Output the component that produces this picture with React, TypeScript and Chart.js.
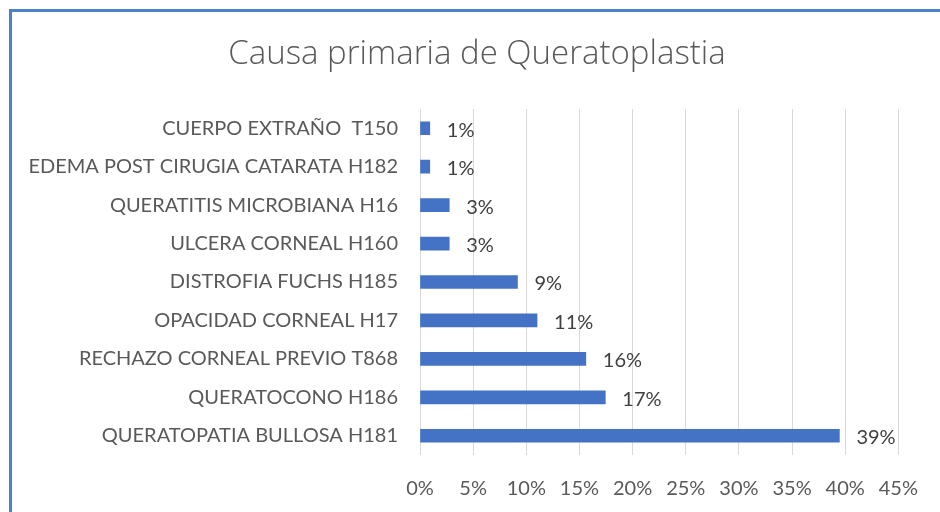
import React, { useEffect, useRef } from "react";
import { Chart, registerables } from "chart.js";

Chart.register(...registerables);

const categories = [
  "CUERPO EXTRAÑO  T150",
  "EDEMA POST CIRUGIA CATARATA H182",
  "QUERATITIS MICROBIANA H16",
  "ULCERA CORNEAL H160",
  "DISTROFIA FUCHS H185",
  "OPACIDAD CORNEAL H17",
  "RECHAZO CORNEAL PREVIO T868",
  "QUERATOCONO H186",
  "QUERATOPATIA BULLOSA H181",
];
const percentValues = [0.92, 0.92, 2.75, 2.75, 9.17, 11.01, 15.6, 17.43, 39.45];
const xTicks = [0, 5, 10, 15, 20, 25, 30, 35, 40, 45];
const titleText = "Causa primaria de Queratoplastia";

const FONT = "Lato, 'Open Sans', sans-serif";
const TITLE_FONT = "'Open Sans', Lato, sans-serif";

const dataLabelPlugin = {
  id: "dataLabels",
  afterDatasetsDraw(chart: any) {
    const ctx = chart.ctx;
    const meta = chart.getDatasetMeta(0);
    const data = chart.data.datasets[0].data as number[];
    ctx.save();
    ctx.font = `20px ${FONT}`;
    ctx.fillStyle = "#404040";
    ctx.textAlign = "left";
    ctx.textBaseline = "middle";
    meta.data.forEach((bar: any, i: number) => {
      ctx.fillText(Math.round(data[i]) + "%", bar.x + 17, bar.y + 2);
    });
    ctx.restore();
  },
};

const titlePlugin = {
  id: "customTitle",
  afterDraw(chart: any) {
    const ctx = chart.ctx;
    ctx.save();
    ctx.font = `300 33px ${TITLE_FONT}`;
    ctx.fillStyle = "#595959";
    ctx.textAlign = "center";
    ctx.textBaseline = "middle";
    ctx.fillText(titleText, 477, 55);
    ctx.restore();
  },
};

export default function App() {
  const ref = useRef<HTMLCanvasElement | null>(null);
  useEffect(() => {
    if (!ref.current) return;
    const chart = new Chart(ref.current, {
      type: "bar",
      data: {
        labels: categories,
        datasets: [
          {
            data: percentValues,
            backgroundColor: "#4472C4",
            borderWidth: 0,
            barThickness: 13,
          },
        ],
      },
      plugins: [dataLabelPlugin, titlePlugin],
      options: {
        indexAxis: "y",
        animation: false,
        responsive: false,
        layout: { padding: { left: 0, right: 37, top: 109, bottom: 0 } },
        plugins: {
          legend: { display: false },
          tooltip: { enabled: false },
          title: { display: false },
        },
        scales: {
          x: {
            type: "linear",
            min: 0,
            max: 45,
            afterBuildTicks(scale: any) {
              scale.ticks = xTicks.map((v) => ({ value: v }));
            },
            afterFit(scale: any) {
              scale.height = 57;
            },
            ticks: {
              color: "#595959",
              font: { family: FONT, size: 20 },
              padding: 22,
              callback: (v: any) => v + "%",
            },
            grid: { color: "#d9d9d9", lineWidth: 1, drawTicks: false },
            border: { display: false },
          },
          y: {
            afterFit(scale: any) {
              scale.width = 420;
            },
            ticks: {
              color: "#595959",
              font: { family: FONT, size: 20 },
              padding: 22,
              autoSkip: false,
            },
            grid: { display: false, drawTicks: false },
            border: { display: false },
          },
        },
      },
    });
    return () => chart.destroy();
  }, []);
  return (
    <div style={{ position: "fixed", left: 0, top: 0, width: 940, height: 512, background: "#fff", overflow: "hidden" }}>
      <canvas ref={ref} width={940} height={512} style={{ position: "absolute", left: 0, top: 0, width: 940, height: 512 }} />
      <div
        style={{
          position: "absolute",
          left: 9,
          top: 9,
          width: 960,
          height: 540,
          borderTop: "3px solid #4F81C7",
          borderLeft: "3px solid #4F81C7",
          boxSizing: "border-box",
          pointerEvents: "none",
        }}
      />
    </div>
  );
}
